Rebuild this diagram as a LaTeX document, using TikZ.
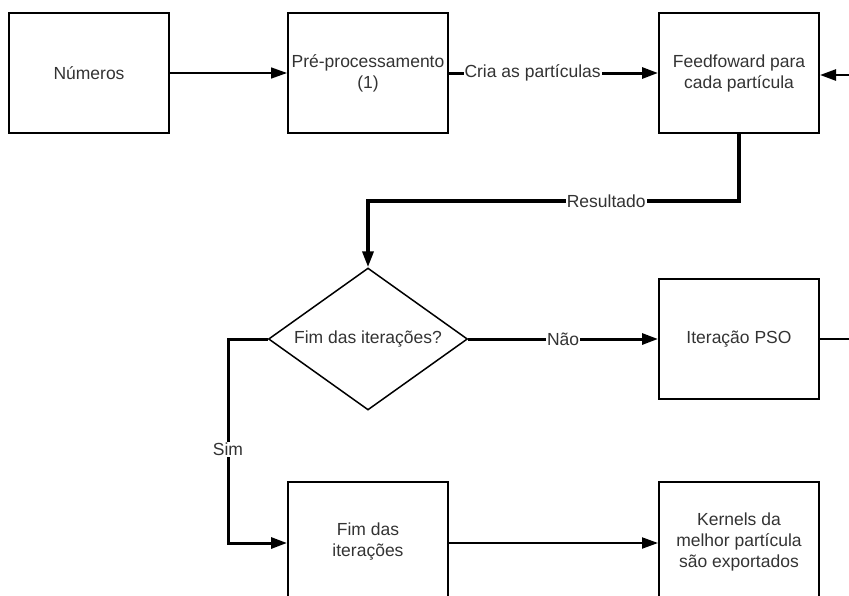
\documentclass[tikz,border=0pt]{standalone}
\usepackage{fontspec}
\setmainfont{Liberation Sans}
\usetikzlibrary{arrows.meta,shapes.geometric}
\definecolor{txt}{HTML}{333333}
\tikzset{
  every node/.style={font=\fontsize{17.5pt}{21pt}\selectfont, text=txt},
  stepbox/.style={draw=black, line width=2pt, minimum width=160pt, minimum height=120pt, inner sep=0pt, align=center},
  decision/.style={diamond, draw=black, line width=1.5pt, minimum width=199pt, minimum height=142pt, inner sep=0pt, aspect=1.4},
  tip/.style={-{Triangle[length=16pt,width=11pt]}},
  thin conn/.style={line width=1.5pt},
  thick conn/.style={line width=3pt},
  lbl/.style={fill=white, inner sep=1pt},
}
\begin{document}
\begin{tikzpicture}[x=1pt, y=-1pt]
  \useasboundingbox (0,0) rectangle (849,595);
  \clip (0,0) rectangle (849,595);

  % process boxes
  \node[stepbox] (num)  at (89,73)   {Números};
  \node[stepbox] (pre)  at (368,73)  {Pré-processamento\\(1)};
  \node[stepbox] (ff)   at (739,73)  {Feedfoward para\\cada partícula};
  \node[decision] (dec) at (368,339) {Fim das iterações?};
  \node[stepbox] (pso)  at (739,339) {Iteração PSO};
  \node[stepbox] (fim)  at (368,542) {Fim das\\iterações};
  \node[stepbox] (ker)  at (739,542) {Kernels da\\melhor partícula\\são exportados};

  % loose ends on the right edge
  \coordinate (backin)  at (849,75);
  \coordinate (backout) at (849,339);

  % connectors
  \draw[thin conn, tip] (num.east) -- (pre.west);
  \draw[thick conn, tip] (pre.east) -- node[lbl, pos=0.40] {Cria as partículas} (ff.west);
  \draw[line width=2.5pt, tip] (backin) -- (ff.east |- backin);
  \draw[line width=3.5pt, tip] (ff.south) -- (ff.south |- 0,201)
        -- node[lbl, pos=0.358] {Resultado} (dec.north |- 0,201) -- (dec.north);
  \draw[line width=3pt, tip] (dec.east) -- node[lbl] {Não} (pso.west);
  \draw[thin conn] (pso.east) -- (backout);
  \draw[line width=3pt, tip] (dec.west) -- (228,339)
        -- node[lbl, pos=0.54] {Sim} (228,543) -- (fim.west |- 0,543);
  \draw[line width=2pt, tip] (fim.east |- 0,543) -- (ker.west |- 0,543);
\end{tikzpicture}
\end{document}
